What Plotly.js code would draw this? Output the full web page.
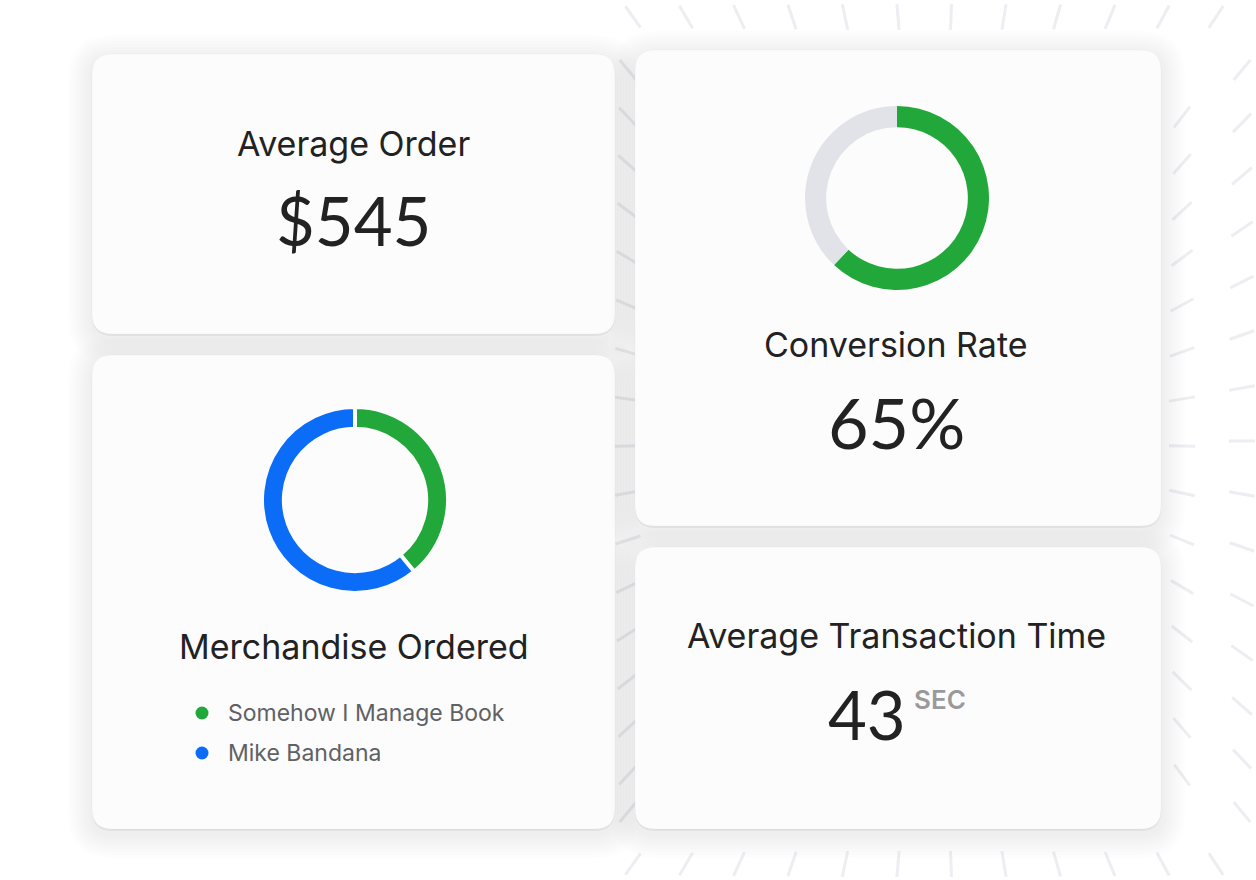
<!DOCTYPE html>
<html>
<head>
<meta charset="utf-8">
<script src="https://cdn.plot.ly/plotly-3.0.1.min.js"></script>
<style>
  html, body { margin: 0; padding: 0; background: #ffffff; }
  #chart { width: 1256px; height: 880px; }
</style>
</head>
<body>
<div id="chart"></div>
<script>
// ---------------- data ----------------
const merchLabels = ['Somehow I Manage Book', 'Mike Bandana'];
const merchValues = [39, 61];
const merchColors = ['#22a83a', '#0a6cf7'];

const convLabels = ['Converted', 'Not converted'];
const convValues = [62, 38];
const convColors = ['#22a83a', '#e1e3e8'];

const cardTitles = ['Average Order', 'Merchandise Ordered', 'Conversion Rate', 'Average Transaction Time'];
const avgOrderText = '$545';
const convRateText = '65%';
const txTimeText = '43';
const txUnitText = 'SEC';

// ---------------- layout helpers ----------------
const W = 1256, H = 880;
const TFONT = 'Inter, "Noto Sans", sans-serif';
const NFONT = 'Lato, "Noto Sans", sans-serif';

function rr(x0, y0, x1, y1, r) {
  return `M${x0 + r},${y0} L${x1 - r},${y0} Q${x1},${y0} ${x1},${y0 + r} ` +
         `L${x1},${y1 - r} Q${x1},${y1} ${x1 - r},${y1} L${x0 + r},${y1} ` +
         `Q${x0},${y1} ${x0},${y1 - r} L${x0},${y0 + r} Q${x0},${y0} ${x0 + r},${y0} Z`;
}

const shapes = [];

// background ray dashes (decoration)
function rayRing(x0, y0, x1, y1, step, cx, cy, len) {
  const pts = [];
  for (let x = x0; x <= x1; x += step) { pts.push([x, y0]); pts.push([x, y1]); }
  for (let y = y0 + step; y < y1; y += step) { pts.push([x0, y]); pts.push([x1, y]); }
  pts.forEach(([px, py]) => {
    if (px < 618) return;
    const a = Math.atan2(py - cy, px - cx);
    const dx = Math.cos(a) * len / 2, dy = Math.sin(a) * len / 2;
    shapes.push({type: 'line', xref: 'x', yref: 'y', layer: 'below',
      x0: px - dx, y0: py - dy, x1: px + dx, y1: py + dy,
      line: {color: '#eceef2', width: 3}});
  });
}
rayRing(580, 17, 1242, 864, 53, 935, 440, 26);
rayRing(628, 70, 1182, 812, 47, 935, 440, 26);

// cards
const cards = [
  [92, 54, 615, 334],
  [92, 355, 615, 829],
  [635, 50, 1161, 526],
  [635, 547, 1161, 829]
];
cards.forEach(([x0, y0, x1, y1]) => {
  for (let i = 8; i >= 1; i--) {
    const e = i * 3;
    shapes.push({type: 'path', xref: 'x', yref: 'y', layer: 'below',
      path: rr(x0 - e, y0 - e + 5, x1 + e, y1 + e + 5, 20 + e),
      fillcolor: 'rgba(40,44,60,0.006)', line: {width: 0}});
  }
  shapes.push({type: 'path', xref: 'x', yref: 'y', layer: 'below',
    path: rr(x0, y0 + 2, x1, y1 + 2, 20),
    fillcolor: 'rgba(0,0,0,0.05)', line: {width: 0}});
  shapes.push({type: 'path', xref: 'x', yref: 'y', layer: 'below',
    path: rr(x0, y0, x1, y1, 20),
    fillcolor: '#fcfcfd', line: {color: 'rgba(0,0,0,0.025)', width: 1}});
});

// ---------------- traces ----------------
const dom = (x0, y0, x1, y1) => ({x: [x0 / W, x1 / W], y: [1 - y1 / H, 1 - y0 / H]});

const traces = [
  {
    type: 'pie', labels: convLabels, values: convValues,
    marker: {colors: convColors, line: {width: 0}},
    hole: 0.77, sort: false, direction: 'clockwise', rotation: 0,
    textinfo: 'none', hoverinfo: 'label+value', showlegend: false,
    domain: dom(805, 106, 989, 290)
  },
  {
    type: 'pie', labels: merchLabels, values: merchValues,
    marker: {colors: merchColors, line: {color: '#fcfcfd', width: 4}},
    hole: 0.765, sort: false, direction: 'clockwise', rotation: 0,
    textinfo: 'none', hoverinfo: 'label+value', showlegend: false,
    domain: dom(262, 407, 448, 593)
  },
  {
    type: 'scatter', mode: 'markers', xaxis: 'x', yaxis: 'y',
    x: merchLabels.map(() => 202), y: merchLabels.map((_, i) => 713 + i * 40),
    marker: {color: merchColors, size: 13, line: {width: 0}},
    hoverinfo: 'skip', showlegend: false
  }
];

// ---------------- annotations ----------------
const ann = (text, x, y, size, color, anchor, family, weight) => ({
  text, x, y, xref: 'x', yref: 'y', showarrow: false,
  xanchor: anchor || 'center', yanchor: 'middle',
  font: {family: family || TFONT, size, color, weight: weight || 400}
});

const annotations = [
  ann(cardTitles[0], 353, 143, 34, '#222222'),
  ann(avgOrderText, 353, 220, 67, '#222222', 'center', NFONT),
  ann(cardTitles[1], 354, 646, 34, '#222222'),
  ann(cardTitles[2], 896, 344, 34, '#222222'),
  ann(convRateText, 896, 422, 70, '#222222', 'center', NFONT),
  ann(cardTitles[3], 896, 635, 34, '#222222'),
  ann(txTimeText, 867, 714, 67, '#222222', 'center', NFONT),
  ann(txUnitText, 912, 699, 26, '#9a9a9a', 'left', TFONT, 600),
];
merchLabels.forEach((t, i) => annotations.push(ann(t, 226, 713 + i * 40, 23, '#606164', 'left')));

const layout = {
  width: W, height: H,
  margin: {l: 0, r: 0, t: 0, b: 0, pad: 0},
  paper_bgcolor: '#ffffff', plot_bgcolor: 'rgba(0,0,0,0)',
  xaxis: {range: [0, W], visible: false, fixedrange: true},
  yaxis: {range: [H, 0], visible: false, fixedrange: true},
  showlegend: false,
  shapes, annotations
};

Plotly.newPlot('chart', traces, layout, {displayModeBar: false, staticPlot: true});
</script>
</body>
</html>
